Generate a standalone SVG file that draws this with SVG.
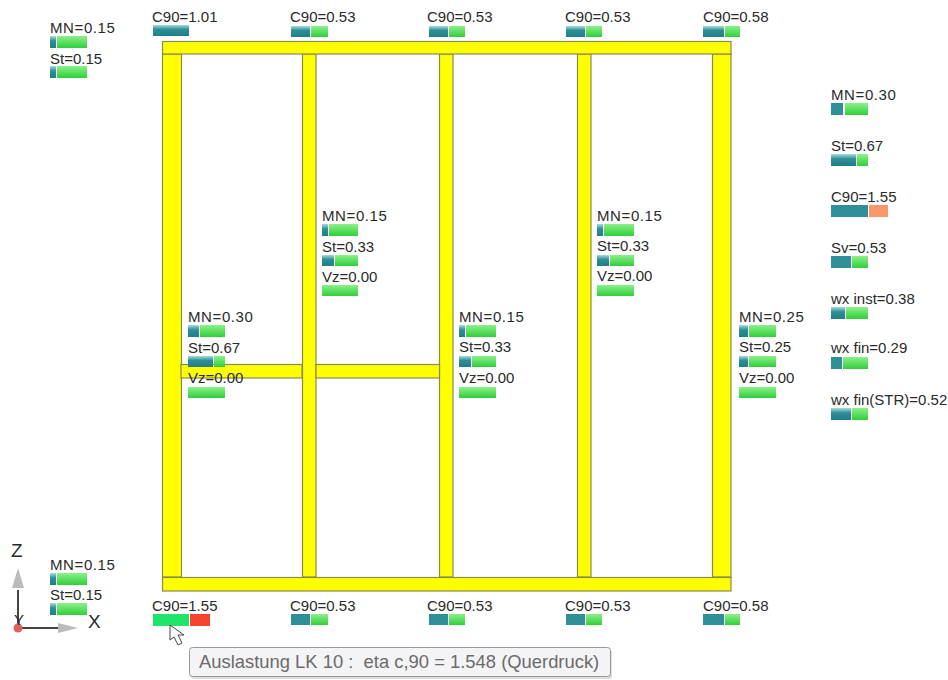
<svg xmlns="http://www.w3.org/2000/svg" width="948" height="680" viewBox="0 0 948 680">
<style>
text{font-family:"Liberation Sans",Arial,sans-serif;font-size:15px;fill:#2a2a2a}
.mn{letter-spacing:.6px}
.b{fill:#ffff00;stroke:#8a8a50;stroke-width:1.2}
.t{fill:#2f8f97}
</style>
<defs>
<linearGradient id="gg" x1="0" y1="0" x2="0" y2="1"><stop offset="0" stop-color="#8cf08a"/><stop offset="1" stop-color="#2fcf3a"/></linearGradient>
<linearGradient id="tt" x1="0" y1="0" x2="0" y2="1"><stop offset="0" stop-color="#a8dcdc"/><stop offset=".4" stop-color="#2f8f97"/><stop offset="1" stop-color="#1f7f88"/></linearGradient>
</defs>
<rect width="948" height="680" fill="#fff"/>
<g id="frame">
<rect class="b" x="162.500" y="54" width="19" height="523"/>
<rect class="b" x="302.500" y="54" width="13.500" height="523"/>
<rect class="b" x="439.500" y="54" width="13.500" height="523"/>
<rect class="b" x="577.500" y="54" width="13.500" height="523"/>
<rect class="b" x="712.500" y="54" width="18.500" height="523"/>
<rect class="b" x="162.500" y="41.500" width="568.500" height="12.500"/>
<rect class="b" x="162.500" y="577.500" width="568.500" height="13.500"/>
<rect class="b" x="181" y="364.500" width="121" height="13.500"/>
<rect class="b" x="316" y="364.500" width="123.500" height="13.500"/>
</g>
<g id="top-c90">
<text x="152" y="22">C90=1.01</text><rect x="153" y="25" width="36" height="11" fill="url(#tt)"/>
<text x="290" y="22">C90=0.53</text><rect x="291" y="26" width="19" height="11" fill="url(#tt)"/><rect x="311" y="26" width="17" height="11" fill="url(#gg)"/>
<text x="427" y="22">C90=0.53</text><rect x="429" y="26" width="19" height="11" fill="url(#tt)"/><rect x="449" y="26" width="16" height="11" fill="url(#gg)"/>
<text x="565" y="22">C90=0.53</text><rect x="566" y="26" width="19" height="11" fill="url(#tt)"/><rect x="586" y="26" width="16" height="11" fill="url(#gg)"/>
<text x="703" y="22">C90=0.58</text><rect x="703" y="26" width="21" height="11" fill="url(#tt)"/><rect x="725" y="26" width="15" height="11" fill="url(#gg)"/>
</g>
<g id="top-left">
<text class="mn" x="50" y="33">MN=0.15</text><rect x="50" y="36" width="6" height="12" fill="url(#tt)"/><rect x="57" y="36" width="30" height="12" fill="url(#gg)"/>
<text x="50" y="64">St=0.15</text><rect x="50" y="66" width="6" height="12" fill="url(#tt)"/><rect x="57" y="66" width="30" height="12" fill="url(#gg)"/>
</g>
<g id="right-legend">
<text class="mn" x="831" y="100">MN=0.30</text><rect x="831" y="103" width="12" height="12" class="t"/><rect x="845" y="103" width="23" height="12" fill="url(#gg)"/>
<text x="831" y="151">St=0.67</text><rect x="831" y="154" width="25" height="12" fill="url(#tt)"/><rect x="857" y="154" width="11" height="12" fill="url(#gg)"/>
<text x="831" y="202">C90=1.55</text><rect x="831" y="205" width="37" height="12" class="t"/><rect x="869" y="205" width="19" height="12" fill="#f7976a"/>
<text x="831" y="253">Sv=0.53</text><rect x="831" y="256" width="20" height="12" class="t"/><rect x="852" y="256" width="16" height="12" fill="url(#gg)"/>
<text x="831" y="304">wx inst=0.38</text><rect x="831" y="307" width="14" height="12" fill="url(#tt)"/><rect x="846" y="307" width="22" height="12" fill="url(#gg)"/>
<text x="831" y="353">wx fin=0.29</text><rect x="831" y="357" width="11" height="12" class="t"/><rect x="843" y="357" width="25" height="12" fill="url(#gg)"/>
<text x="831" y="405">wx fin(STR)=0.52</text><rect x="831" y="408" width="20" height="12" fill="url(#tt)"/><rect x="852" y="408" width="16" height="12" fill="url(#gg)"/>
</g>
<g id="member-1">
<text class="mn" x="188" y="322">MN=0.30</text><rect x="188" y="325" width="11" height="12" fill="url(#tt)"/><rect x="200" y="325" width="25" height="12" fill="url(#gg)"/>
<text x="188" y="353">St=0.67</text><rect x="188" y="356" width="25" height="11" fill="url(#tt)"/><rect x="214" y="356" width="11" height="11" fill="url(#gg)"/>
<text x="188" y="383">Vz=0.00</text><rect x="188" y="387" width="37" height="11" fill="url(#gg)"/>
</g>
<g id="member-2">
<text class="mn" x="322" y="221">MN=0.15</text><rect x="322" y="224" width="6" height="12" fill="url(#tt)"/><rect x="329" y="224" width="29" height="12" fill="url(#gg)"/>
<text x="322" y="252">St=0.33</text><rect x="322" y="255" width="12" height="11" fill="url(#tt)"/><rect x="335" y="255" width="23" height="11" fill="url(#gg)"/>
<text x="322" y="282">Vz=0.00</text><rect x="322" y="285" width="36" height="11" fill="url(#gg)"/>
</g>
<g id="member-3">
<text class="mn" x="459" y="322">MN=0.15</text><rect x="459" y="325" width="6" height="12" fill="url(#tt)"/><rect x="466" y="325" width="30" height="12" fill="url(#gg)"/>
<text x="459" y="352">St=0.33</text><rect x="459" y="356" width="12" height="11" fill="url(#tt)"/><rect x="472" y="356" width="24" height="11" fill="url(#gg)"/>
<text x="459" y="383">Vz=0.00</text><rect x="459" y="387" width="37" height="11" fill="url(#gg)"/>
</g>
<g id="member-4">
<text class="mn" x="597" y="221">MN=0.15</text><rect x="597" y="224" width="6" height="12" fill="url(#tt)"/><rect x="604" y="224" width="30" height="12" fill="url(#gg)"/>
<text x="597" y="251">St=0.33</text><rect x="597" y="255" width="12" height="11" fill="url(#tt)"/><rect x="610" y="255" width="24" height="11" fill="url(#gg)"/>
<text x="597" y="281">Vz=0.00</text><rect x="597" y="285" width="37" height="11" fill="url(#gg)"/>
</g>
<g id="member-5">
<text class="mn" x="739" y="322">MN=0.25</text><rect x="739" y="325" width="9" height="12" fill="url(#tt)"/><rect x="749" y="325" width="27" height="12" fill="url(#gg)"/>
<text x="739" y="352">St=0.25</text><rect x="739" y="356" width="9" height="11" fill="url(#tt)"/><rect x="749" y="356" width="27" height="11" fill="url(#gg)"/>
<text x="739" y="383">Vz=0.00</text><rect x="739" y="387" width="37" height="11" fill="url(#gg)"/>
</g>
<g id="bottom-left">
<text class="mn" x="50" y="570">MN=0.15</text><rect x="50" y="573" width="6" height="12" fill="url(#tt)"/><rect x="57" y="573" width="30" height="12" fill="url(#gg)"/>
<text x="50" y="600">St=0.15</text><rect x="50" y="603" width="6" height="12" fill="url(#tt)"/><rect x="57" y="603" width="30" height="12" fill="url(#gg)"/>
</g>
<g id="bottom-c90">
<text x="152" y="611">C90=1.55</text><rect x="153" y="614" width="36" height="12" fill="#1fe66a"/><rect x="190" y="614" width="20" height="12" fill="#f5452e"/>
<text x="290" y="611">C90=0.53</text><rect x="291" y="614" width="19" height="11" fill="#2f8f97"/><rect x="311" y="614" width="17" height="11" fill="url(#gg)"/>
<text x="427" y="611">C90=0.53</text><rect x="429" y="614" width="19" height="11" fill="#2f8f97"/><rect x="449" y="614" width="16" height="11" fill="url(#gg)"/>
<text x="565" y="611">C90=0.53</text><rect x="566" y="614" width="19" height="11" fill="#2f8f97"/><rect x="586" y="614" width="16" height="11" fill="url(#gg)"/>
<text x="703" y="611">C90=0.58</text><rect x="703" y="614" width="21" height="11" fill="#2f8f97"/><rect x="725" y="614" width="15" height="11" fill="url(#gg)"/>
</g>
<g id="axes">
<path d="M18 628V590M18 628H58" stroke="#444" stroke-width="2" fill="none"/>
<path d="M18 568l-6 20h12zM78 628l-20-5v10z" fill="#bbb"/>
<circle cx="18" cy="628" r="4.500" fill="#e06060"/>
<text x="11" y="557" style="font-size:19px">Z</text>
<text x="88" y="628" style="font-size:19px">X</text>
<text x="14" y="625" style="font-size:15px">Y</text>
</g>
<g id="cursor"><path d="M170 625v15l4-3 4 8 4-2-4-8h6z" fill="#fff" stroke="#444" stroke-width="1"/></g>
<g id="tooltip">
<rect x="191" y="650" width="421" height="29" rx="3" fill="#ddd"/>
<rect x="189.500" y="647.500" width="421" height="29" rx="3" fill="#f4f4f6" stroke="#999"/>
<text x="199" y="668" xml:space="preserve" style="font-size:18.400px;fill:#6b6b6b">Auslastung LK 10 :  eta c,90 = 1.548 (Querdruck)</text>
</g>
</svg>
